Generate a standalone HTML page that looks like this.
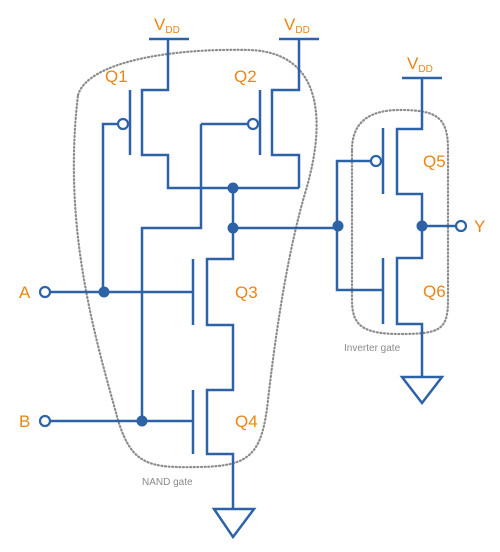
<!DOCTYPE html>
<html><head><style>
html,body{margin:0;padding:0;background:#fff;}
svg{display:block;}
.w{stroke:#2e62a6;stroke-width:2.5;fill:none;}
.o{fill:#ec8513;font-family:"Liberation Sans",sans-serif;font-size:17px;}
.g{fill:#8a8a8a;font-family:"Liberation Sans",sans-serif;font-size:10px;}
</style></head><body>
<svg width="500" height="552" viewBox="0 0 500 552">
<path d="M78,95 C88,62 170,48 250,50 C325,53 325,125 306,190 C288,250 276,330 268,400 C262,455 250,466 200,467 C150,468 132,466 118,420 C96,340 62,230 78,95 Z" fill="none" stroke="#8c8c8c" stroke-width="2.2" stroke-dasharray="1,2.6" stroke-linecap="round"/>
<path d="M352,150 C352,120 372,110 400,110 C438,110 448,118 448,150 L448,300 C448,330 440,334 400,334 C362,334 352,325 352,300 Z" fill="none" stroke="#8c8c8c" stroke-width="2.2" stroke-dasharray="1,2.6" stroke-linecap="round"/>
<g class="w">
<path d="M149,39H189M168,39V90H142V155H168V188H299M279,39H319M299,39V90H272V155H299V188"/>
<path d="M130,90V155M260,90V155"/>
<path d="M103,292V124H118M201,124H248M201,124V228H142V421"/>
<path d="M233,188V259H207V325H233V390H207V454H233V509"/>
<path d="M233,228H338"/>
<path d="M193,259V325M193,390V454"/>
<path d="M50,292H193M50,421H193"/>
<path d="M214,509H254L233,537Z"/>
<path d="M402,78H442M422,78V129H397V194H422V258H397V324H422V377"/>
<path d="M383,128V194M383,258V324"/>
<path d="M371,161H337V290H383"/>
<path d="M422,226H456"/>
<path d="M402,377H442L422,403Z"/>
</g>
<g fill="#fff" stroke="#2e62a6" stroke-width="2.2">
<circle cx="123" cy="124" r="5"/><circle cx="253" cy="124" r="5"/><circle cx="376" cy="161" r="5"/>
<circle cx="45" cy="292" r="5"/><circle cx="45" cy="421" r="5"/><circle cx="461" cy="226" r="5"/>
</g>
<g fill="#2e62a6">
<circle cx="233" cy="188" r="5.5"/><circle cx="233" cy="228" r="5.5"/><circle cx="104" cy="292" r="5.5"/>
<circle cx="142" cy="421" r="5.5"/><circle cx="338" cy="226" r="5.5"/><circle cx="422" cy="226" r="5.5"/>
</g>
<text class="o" x="154" y="30">V<tspan font-size="10" dy="3">DD</tspan></text>
<text class="o" x="284" y="30">V<tspan font-size="10" dy="3">DD</tspan></text>
<text class="o" x="407" y="69">V<tspan font-size="10" dy="3">DD</tspan></text>
<text class="o" x="105" y="82">Q1</text>
<text class="o" x="234" y="82">Q2</text>
<text class="o" x="235" y="298">Q3</text>
<text class="o" x="235" y="427">Q4</text>
<text class="o" x="423" y="167">Q5</text>
<text class="o" x="423" y="297">Q6</text>
<text class="o" x="19" y="298">A</text>
<text class="o" x="19" y="427">B</text>
<text class="o" x="474" y="232">Y</text>
<text class="g" x="142" y="485">NAND gate</text>
<text class="g" x="344" y="351">Inverter gate</text>
</svg>
</body></html>
